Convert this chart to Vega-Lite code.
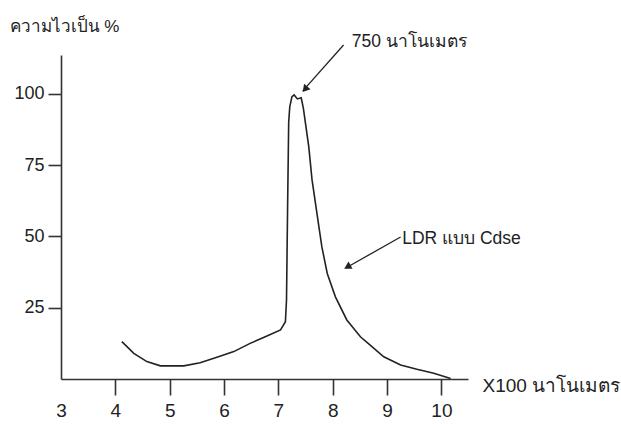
{
  "$schema": "https://vega.github.io/schema/vega-lite/v6.json",
  "width": 407,
  "height": 324,
  "autosize": {"type": "none"},
  "padding": {"left": 61, "top": 55, "right": 153, "bottom": 45},
  "background": "white",
  "config": {"view": {"stroke": null}},
  "datasets": {
    "curve": [
      {"x": 4.12, "y": 13.1}, {"x": 4.34, "y": 9.0}, {"x": 4.58, "y": 6.1}, {"x": 4.83, "y": 4.6},
      {"x": 5.26, "y": 4.6}, {"x": 5.56, "y": 5.7}, {"x": 5.87, "y": 7.6}, {"x": 6.18, "y": 9.6},
      {"x": 6.48, "y": 12.5}, {"x": 6.79, "y": 15.1}, {"x": 7.04, "y": 17.2}, {"x": 7.13, "y": 20.1},
      {"x": 7.15, "y": 27.7}, {"x": 7.17, "y": 60}, {"x": 7.19, "y": 90}, {"x": 7.21, "y": 95.4},
      {"x": 7.25, "y": 99}, {"x": 7.29, "y": 99.6}, {"x": 7.35, "y": 98.2}, {"x": 7.42, "y": 98.6},
      {"x": 7.46, "y": 95}, {"x": 7.56, "y": 81.4}, {"x": 7.62, "y": 69.8}, {"x": 7.71, "y": 58.1},
      {"x": 7.80, "y": 46.4}, {"x": 7.90, "y": 37}, {"x": 8.05, "y": 28.8}, {"x": 8.26, "y": 20.7},
      {"x": 8.51, "y": 14.8}, {"x": 8.69, "y": 11.9}, {"x": 8.94, "y": 7.8}, {"x": 9.25, "y": 4.9},
      {"x": 9.55, "y": 3.4}, {"x": 9.86, "y": 2.0}, {"x": 10.17, "y": 0.2}
    ],
    "arrows": [
      {"x": 8.2, "y": 117.1, "x2": 7.45, "y2": 101.0},
      {"x": 9.25, "y": 49.8, "x2": 8.24, "y2": 38.9}
    ],
    "heads": [
      {"name": "a1", "x": 7.49, "y": 101.6},
      {"name": "a2", "x": 8.27, "y": 39.3}
    ],
    "labels": [
      {"x": 8.35, "y": 118.2, "label": "750 นาโนเมตร"},
      {"x": 9.28, "y": 49.1, "label": "LDR แบบ Cdse"}
    ]
  },
  "layer": [
    {
      "data": {"name": "curve"},
      "mark": {"type": "line", "color": "#222", "strokeWidth": 1.6, "clip": false},
      "encoding": {
        "x": {
          "field": "x", "type": "quantitative",
          "scale": {"domain": [3, 10.49], "nice": false, "zero": false},
          "axis": {
            "values": [3, 4, 5, 6, 7, 8, 9, 10],
            "format": "d",
            "domainColor": "#333", "domainWidth": 1.6,
            "tickColor": "#333", "tickWidth": 1.6, "tickSize": 16,
            "tickOpacity": {"condition": {"test": "datum.value === 3", "value": 0}, "value": 1},
            "grid": false,
            "labelFont": "Liberation Sans", "labelFontSize": 19,
            "labelColor": "#222", "labelPadding": 6, "labelFlush": false,
            "title": "X100 นาโนเมตร",
            "titleFont": "Liberation Sans, Noto Sans", "titleFontSize": 19, "titleFontWeight": "normal",
            "titleColor": "#222", "titleX": 421, "titleY": 6, "titleAlign": "left", "titleBaseline": "middle",
            "titleAngle": 0
          }
        },
        "y": {
          "field": "y", "type": "quantitative",
          "scale": {"domain": [0, 113.6], "nice": false},
          "axis": {
            "values": [25, 50, 75, 100],
            "format": "d",
            "domainColor": "#333", "domainWidth": 1.6,
            "tickColor": "#333", "tickWidth": 1.6, "tickSize": 13,
            "grid": false,
            "labelFont": "Liberation Sans", "labelFontSize": 18,
            "labelColor": "#222", "labelPadding": 4,
            "title": "ความไวเป็น %",
            "titleFont": "Liberation Sans, Noto Sans", "titleFontSize": 17, "titleFontWeight": "normal",
            "titleColor": "#222", "titleX": -52, "titleY": -29, "titleAlign": "left", "titleBaseline": "middle",
            "titleAngle": 0
          }
        }
      }
    },
    {
      "data": {"name": "arrows"},
      "mark": {"type": "rule", "color": "#222", "strokeWidth": 1.3, "clip": false},
      "encoding": {
        "x": {"field": "x", "type": "quantitative"},
        "y": {"field": "y", "type": "quantitative"},
        "x2": {"field": "x2"},
        "y2": {"field": "y2"}
      }
    },
    {
      "data": {"name": "heads"},
      "transform": [{"filter": "datum.name === 'a1'"}],
      "mark": {"type": "point", "shape": "triangle-up", "filled": true, "color": "#222", "size": 70, "angle": 220, "opacity": 1},
      "encoding": {
        "x": {"field": "x", "type": "quantitative"},
        "y": {"field": "y", "type": "quantitative"}
      }
    },
    {
      "data": {"name": "heads"},
      "transform": [{"filter": "datum.name === 'a2'"}],
      "mark": {"type": "point", "shape": "triangle-up", "filled": true, "color": "#222", "size": 70, "angle": 241, "opacity": 1},
      "encoding": {
        "x": {"field": "x", "type": "quantitative"},
        "y": {"field": "y", "type": "quantitative"}
      }
    },
    {
      "data": {"name": "labels"},
      "mark": {"type": "text", "align": "left", "baseline": "middle", "font": "Liberation Sans, Noto Sans", "fontSize": 17.5, "color": "#222"},
      "encoding": {
        "x": {"field": "x", "type": "quantitative"},
        "y": {"field": "y", "type": "quantitative"},
        "text": {"field": "label"}
      }
    }
  ]
}
